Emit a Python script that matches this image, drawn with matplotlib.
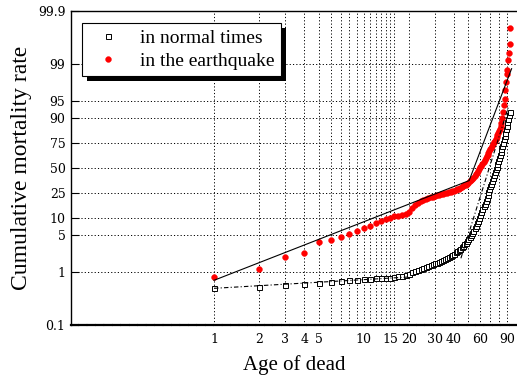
import matplotlib
matplotlib.use('Agg')
import matplotlib.pyplot as plt
from matplotlib.patches import Rectangle
from matplotlib.ticker import FixedLocator, FixedFormatter, NullLocator
from matplotlib.transforms import IdentityTransform

# Age of dead (years) for each series
ages_normal = list(range(1, 95))
ages_quake = list(range(1, 96))

# Cumulative mortality rate (%) in normal times
rate_normal = [0.50, 0.53, 0.58, 0.60, 0.62, 0.65, 0.68, 0.71, 0.73, 0.75,
               0.76, 0.77, 0.78, 0.79, 0.80, 0.82, 0.84, 0.86, 0.90, 0.95,
               1.00, 1.05, 1.10, 1.15, 1.20, 1.25, 1.30, 1.36, 1.42, 1.48,
               1.54, 1.60, 1.66, 1.72, 1.80, 1.88, 1.96, 2.05, 2.15, 2.26,
               2.38, 2.50, 2.64, 2.80, 2.97, 3.15, 3.35, 3.60, 3.88, 4.20,
               4.6, 5.0, 5.5, 6.0, 6.6, 7.3, 8.1, 9.0, 10.0, 11.2,
               12.5, 14.0, 15.6, 17.3, 19.2, 21.2, 23.4, 25.7, 28.2, 30.8,
               33.5, 36.3, 39.2, 42.2, 45.3, 48.4, 51.5, 54.6, 57.7, 60.8,
               63.8, 66.8, 69.7, 72.5, 75.2, 77.8, 80.2, 82.5, 84.6, 86.5,
               88.2, 89.7, 91.0, 92.0]

# Cumulative mortality rate (%) in the earthquake
rate_quake = [0.81, 1.14, 1.99, 2.37, 3.72, 4.00, 4.59, 5.30, 5.90, 6.68,
              7.37, 8.18, 8.87, 9.60, 10.16, 10.69, 11.0, 11.3, 11.8, 12.8,
              14.8, 16.5, 17.8, 18.8, 19.6, 20.3, 20.9, 21.5, 22.1, 22.6,
              23.1, 23.5, 23.9, 24.3, 24.7, 25.1, 25.5, 26.0, 26.5, 27.0,
              27.6, 28.2, 28.8, 29.5, 30.2, 31.0, 31.8, 32.6, 33.5, 34.5,
              35.6, 36.8, 38.2, 39.7, 41.3, 43.0, 44.8, 46.7, 48.6, 50.6,
              52.6, 54.6, 56.6, 58.6, 60.5, 62.4, 64.2, 66.0, 67.7, 69.4,
              71.0, 72.6, 74.1, 75.6, 77.0, 78.4, 79.8, 81.1, 82.4, 83.7,
              85.0, 86.5, 88.0, 90.0, 92.0, 94.0, 95.5, 96.8, 97.8, 98.4,
              98.7, 99.15, 99.37, 99.58, 99.79]

# Fitted lines (two segments each)
fit_quake_age = [1, 50.5, 97]
fit_quake_rate = [0.71, 36.5, 98.75]
fit_normal_low_age = [1, 20]
fit_normal_low_rate = [0.50, 0.82]
fit_normal_high_age = [44.5, 93]
fit_normal_high_rate = [1.85, 94.0]

# Axis ticks
y_tick_values = [0.1, 1, 5, 10, 25, 50, 75, 90, 95, 99, 99.9]
y_tick_labels = ['0.1', '1', '5', '10', '25', '50', '75', '90', '95', '99', '99.9']
x_tick_values = [1, 2, 3, 4, 5, 10, 15, 20, 30, 40, 60, 90]
x_tick_labels = ['1', '2', '3', '4', '5', '10', '15', '20', '30', '40', '60', '90']
x_grid_values = [1, 2, 3, 4, 5, 6, 7, 8, 9, 10, 11, 12, 13, 14, 15, 16,
                 20, 30, 40, 50, 60, 70, 80, 90]


def pct(values):
    return [v / 100.0 for v in values]


def plot_mortality():
    fig = plt.figure(figsize=(5.17, 3.78), dpi=100)
    ax = fig.add_axes([71 / 517, 53 / 378, 446 / 517, 314 / 378])

    ax.set_xscale('log')
    ax.set_yscale('logit')
    ax.set_xlim(0.111, 105.4)
    ax.set_ylim(0.001, 0.999)

    # Grid lines
    grid_style = dict(color='black', linewidth=0.7, linestyle=(0, (1.2, 2.2)), zorder=1)
    for gx in x_grid_values:
        ax.axvline(gx, **grid_style)
    for gy in pct(y_tick_values[1:]):
        ax.axhline(gy, **grid_style)

    # Data points
    ax.plot(ages_normal, pct(rate_normal), linestyle='none', marker='s',
            markersize=3.6, markerfacecolor='white', markeredgecolor='black',
            markeredgewidth=0.7, label='in normal times', zorder=3)
    ax.plot(ages_quake, pct(rate_quake), linestyle='none', marker='o',
            markersize=4.2, markerfacecolor='red', markeredgecolor='red',
            markeredgewidth=0.3, label='in the earthquake', zorder=3)

    # Fitted lines
    ax.plot(fit_quake_age, pct(fit_quake_rate), color='black', linewidth=0.8, zorder=4)
    ax.plot(fit_normal_low_age, pct(fit_normal_low_rate), color='black',
            linewidth=0.8, linestyle=(0, (4, 2, 1, 2)), zorder=4)
    ax.plot(fit_normal_high_age, pct(fit_normal_high_rate), color='black',
            linewidth=0.8, linestyle=(0, (4, 2, 1, 2)), zorder=4)

    # Ticks
    ax.yaxis.set_major_locator(FixedLocator(pct(y_tick_values)))
    ax.yaxis.set_major_formatter(FixedFormatter(y_tick_labels))
    ax.yaxis.set_minor_locator(NullLocator())
    ax.xaxis.set_major_locator(FixedLocator(x_tick_values))
    ax.xaxis.set_major_formatter(FixedFormatter(x_tick_labels))
    ax.xaxis.set_minor_locator(NullLocator())
    ax.tick_params(axis='y', direction='in', length=6, width=0.8, pad=4)
    ax.tick_params(axis='x', direction='in', length=0, pad=6)
    for lab in ax.get_xticklabels() + ax.get_yticklabels():
        lab.set_fontfamily('DejaVu Serif')
        lab.set_fontsize(9)

    ax.spines['right'].set_visible(False)
    for side in ['top', 'left', 'bottom']:
        ax.spines[side].set_linewidth(1.0)
    ax.spines['bottom'].set_linewidth(1.6)
    ax.spines['bottom'].set_linestyle((0, (3, 0.8)))

    ax.set_xlabel('Age of dead', fontfamily='Liberation Serif', fontsize=15, labelpad=6)
    ax.set_ylabel('Cumulative mortality rate', fontfamily='Liberation Serif',
                  fontsize=17, labelpad=4)

    # Legend with a solid black drop shadow
    leg = ax.legend(loc='upper left', bbox_to_anchor=(0.025, 0.963),
                    borderaxespad=0, fancybox=False, shadow=False,
                    edgecolor='black', framealpha=1, borderpad=0.35,
                    labelspacing=0.25, handletextpad=0.6,
                    prop={'family': 'Liberation Serif', 'size': 14})
    leg.get_frame().set_linewidth(0.8)
    fig.canvas.draw()
    bb = leg.get_window_extent()
    shadow = Rectangle((bb.x0 + 5, bb.y0 - 5), bb.width, bb.height,
                       transform=IdentityTransform(), facecolor='black',
                       edgecolor='none', zorder=4.9, clip_on=False)
    ax.add_patch(shadow)

    fig.savefig('out.png', dpi=100)


if __name__ == "__main__":
    plot_mortality()
